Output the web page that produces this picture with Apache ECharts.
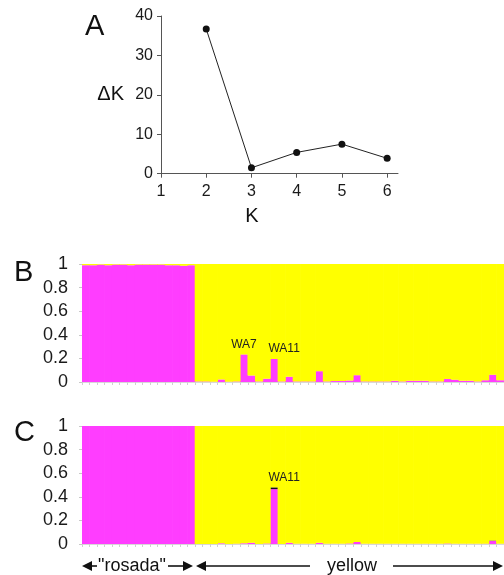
<!DOCTYPE html>
<html>
<head>
<meta charset="utf-8">
<script src="https://cdn.jsdelivr.net/npm/echarts@6/dist/echarts.min.js"></script>
<style>html,body{margin:0;padding:0;background:#fff}#c{width:504px;height:575px}</style>
</head>
<body>
<div id="c"></div>
<script>
// Panel A: Delta K vs K
const kValues = [2, 3, 4, 5, 6];
const deltaK = [36.7, 1.5, 5.4, 7.5, 3.9];
const deltaKTicks = [0, 10, 20, 30, 40];

// Individuals: 15 "rosada" + 41 yellow (WA1..WA41)
const rosadaIds = ['R1','R2','R3','R4','R5','R6','R7','R8','R9','R10','R11','R12','R13','R14','R15'];
const yellowIds = ['WA1','WA2','WA3','WA4','WA5','WA6','WA7','WA8','WA9','WA10','WA11','WA12','WA13','WA14','WA15','WA16','WA17','WA18','WA19','WA20','WA21','WA22','WA23','WA24','WA25','WA26','WA27','WA28','WA29','WA30','WA31','WA32','WA33','WA34','WA35','WA36','WA37','WA38','WA39','WA40','WA41'];
const individuals = rosadaIds.concat(yellowIds);

// Panel B (K=2): membership in "rosada" cluster
const pinkB = [0.99,0.99,0.995,0.99,0.995,0.995,0.99,0.995,0.995,0.995,0.995,0.99,0.99,0.985,0.99,
  0.005,0.005,0.003,0.022,0.003,0.005,0.234,0.055,0.005,0.028,0.195,0.005,0.045,0.005,0.005,0.005,
  0.092,0.005,0.008,0.008,0.013,0.058,0.005,0.005,0.005,0.005,0.01,0.005,0.01,0.01,0.01,0.005,0.005,
  0.025,0.02,0.01,0.01,0.005,0.015,0.062,0.015];
const labeledB = ['WA7', 'WA11'];

// Panel C (K=3): rosada / third cluster / yellow
const pinkC = [1,1,1,1,1,1,1,1,1,1,1,1,1,1,1,
  0,0,0,0.006,0,0.003,0.006,0.011,0,0.005,0.465,0,0.011,0.002,0.002,0.002,
  0.011,0.002,0.002,0.002,0.005,0.017,0.002,0.002,0.002,0.002,0.002,0.002,0.002,0.002,0.002,0.002,0.002,
  0.005,0.002,0.002,0.002,0.002,0.003,0.025,0.002];
const blackC = [0,0,0,0,0,0,0,0,0,0,0,0,0,0,0,
  0,0,0,0,0,0,0,0,0,0,0.015,0,0,0,0,0,
  0,0,0,0,0,0,0,0,0,0,0,0,0,0,0,0,0,
  0,0,0,0,0,0,0.004,0];
const labeledC = ['WA11'];
const proportionTicks = [0, 0.2, 0.4, 0.6, 0.8, 1];

const PINK = '#ff3dff', YEL = '#ffff00', FONT = '"Liberation Sans", Arial, sans-serif';

function withLabels(values, labeled) {
  return values.map((v, i) => {
    const name = individuals[i];
    if (labeled.indexOf(name) >= 0) {
      return { value: v, label: { show: true, position: 'top', distance: 4,
        formatter: name, color: '#222', fontSize: 12, fontFamily: FONT,
        offset: name === 'WA11' ? [10, 0] : [0, 0] } };
    }
    return v;
  });
}

const yellowB = pinkB.map(v => +(1 - v).toFixed(4));
const yellowC = pinkC.map((v, i) => +(1 - v - blackC[i]).toFixed(4));

function barX(gi) {
  return { type: 'category', gridIndex: gi, data: individuals,
    axisLine: { show: true, lineStyle: { color: '#d8d8d8', width: 1 } },
    axisTick: { show: true, interval: 0, length: 3, lineStyle: { color: '#d0d0d0' } },
    axisLabel: { show: false }, splitLine: { show: false } };
}
function barY(gi) {
  return { type: 'value', gridIndex: gi, min: proportionTicks[0], max: proportionTicks[proportionTicks.length - 1], interval: 0.2,
    axisLine: { show: false },
    axisTick: { show: true, length: 3, lineStyle: { color: '#c8c8c8' } },
    axisLabel: { fontSize: 18, color: '#1a1a1a', fontFamily: FONT, margin: 14 },
    splitLine: { show: false } };
}
const BW = 8.2;

const chart = echarts.init(document.getElementById('c'), null, { renderer: 'canvas' });

function arrowHead(x, y, dir) {
  const L = 10, H = 5;
  return { type: 'polygon', shape: { points: dir < 0 ? [[x, y], [x + L, y - H], [x + L, y + H]] : [[x, y], [x - L, y - H], [x - L, y + H]] },
    style: { fill: '#111' } };
}
function hline(x1, x2, y) {
  return { type: 'line', shape: { x1: x1, y1: y, x2: x2, y2: y }, style: { stroke: '#111', lineWidth: 1.6 } };
}
const AY = 566;

chart.setOption({
  animation: false,
  backgroundColor: '#fff',
  grid: [
    { left: 161, top: 16, width: 237, height: 157.7 },
    { left: 82, top: 264, right: 0, height: 118 },
    { left: 82, top: 426, right: 0, height: 118 }
  ],
  xAxis: [
    { type: 'value', gridIndex: 0, min: 1, max: 6.24, interval: 1,
      name: 'K', nameLocation: 'middle', nameGap: 33,
      nameTextStyle: { fontSize: 20, color: '#111', fontFamily: FONT, padding: [0, 55, 0, 0] },
      axisLine: { lineStyle: { color: '#555', width: 1 } },
      axisTick: { length: 4, lineStyle: { color: '#555' } },
      axisLabel: { fontSize: 16, color: '#1a1a1a', fontFamily: FONT, margin: 10, showMaxLabel: false },
      splitLine: { show: false } },
    barX(1), barX(2)
  ],
  yAxis: [
    { type: 'value', gridIndex: 0, min: deltaKTicks[0], max: deltaKTicks[deltaKTicks.length - 1], interval: 10,
      name: 'ΔK', nameLocation: 'middle', nameRotate: 0, nameGap: 37,
      nameTextStyle: { fontSize: 20, color: '#111', fontFamily: FONT },
      axisLine: { show: true, lineStyle: { color: '#555', width: 1 } },
      axisTick: { show: true, length: 4, lineStyle: { color: '#555' } },
      axisLabel: { fontSize: 16, color: '#1a1a1a', fontFamily: FONT, margin: 8 },
      splitLine: { show: false } },
    barY(1), barY(2)
  ],
  series: [
    { type: 'line', xAxisIndex: 0, yAxisIndex: 0,
      data: kValues.map((k, i) => [k, deltaK[i]]),
      symbol: 'circle', symbolSize: 7, itemStyle: { color: '#111' },
      lineStyle: { color: '#222', width: 1 } },
    { type: 'bar', name: 'rosada', xAxisIndex: 1, yAxisIndex: 1, stack: 'b', barWidth: BW,
      data: withLabels(pinkB, labeledB), itemStyle: { color: PINK } },
    { type: 'bar', name: 'yellow', xAxisIndex: 1, yAxisIndex: 1, stack: 'b', barWidth: BW,
      data: yellowB, itemStyle: { color: YEL } },
    { type: 'bar', name: 'rosada', xAxisIndex: 2, yAxisIndex: 2, stack: 'c', barWidth: BW,
      data: pinkC, itemStyle: { color: PINK } },
    { type: 'bar', name: 'third', xAxisIndex: 2, yAxisIndex: 2, stack: 'c', barWidth: BW,
      data: withLabels(blackC, labeledC), itemStyle: { color: '#111' } },
    { type: 'bar', name: 'yellow', xAxisIndex: 2, yAxisIndex: 2, stack: 'c', barWidth: BW,
      data: yellowC, itemStyle: { color: YEL } }
  ],
  graphic: [
    { type: 'text', left: 85, top: 12, style: { text: 'A', fontSize: 29, fill: '#111', fontFamily: FONT } },
    { type: 'text', left: 14, top: 258, style: { text: 'B', fontSize: 29, fill: '#111', fontFamily: FONT } },
    { type: 'text', left: 14, top: 418, style: { text: 'C', fontSize: 29, fill: '#111', fontFamily: FONT } },
    hline(88, 97, AY), arrowHead(82, AY, -1),
    { type: 'text', x: 132, y: AY, style: { text: '"rosada"', fontSize: 18, fill: '#111', fontFamily: FONT, align: 'center', verticalAlign: 'middle' } },
    hline(168, 186, AY), arrowHead(193, AY, 1),
    arrowHead(196, AY, -1), hline(202, 310, AY),
    { type: 'text', x: 352, y: AY, style: { text: 'yellow', fontSize: 18, fill: '#111', fontFamily: FONT, align: 'center', verticalAlign: 'middle' } },
    hline(393, 497, AY), arrowHead(503, AY, 1)
  ]
});
</script>
</body>
</html>
